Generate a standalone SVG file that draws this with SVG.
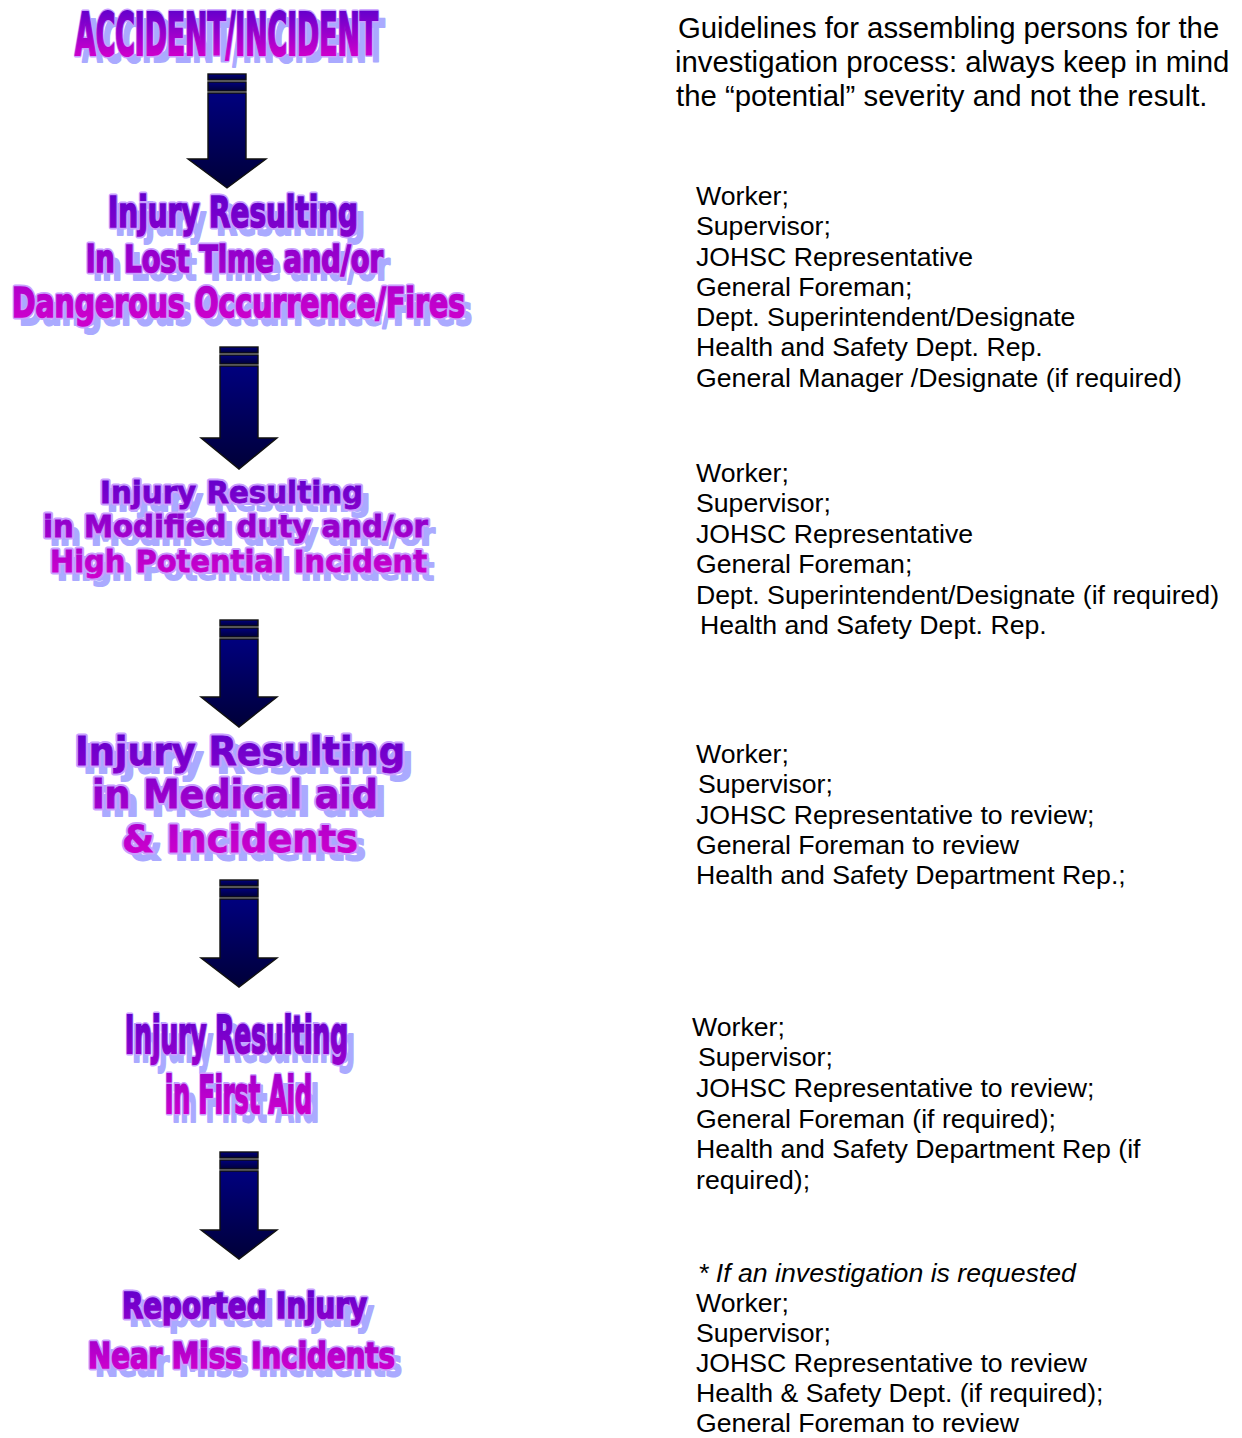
<svg xmlns="http://www.w3.org/2000/svg" xmlns:xlink="http://www.w3.org/1999/xlink" width="1242" height="1438" viewBox="0 0 1242 1438">
<style>
  .body { font-family: "Liberation Sans", Arial, sans-serif; font-size: 26.67px; fill: #000; }
  .intro { font-size: 29.33px; }
  .it { font-style: italic; }
  .shadow { fill: #AAAAFF; stroke: #AAAAFF; stroke-width: 2; stroke-linejoin: round; }
  .outline { fill: #C9A0FF; stroke: #C9A0FF; stroke-width: 5; stroke-linejoin: round; }
  .arrow { fill: url(#arrowFill); stroke: #111; stroke-width: 1.4; stroke-linejoin: miter; }
</style>
<defs>
  <linearGradient id="arrowFill" x1="0" y1="0" x2="0" y2="1">
    <stop offset="0" stop-color="#00007E"/>
    <stop offset="1" stop-color="#000038"/>
  </linearGradient>
  <linearGradient id="g1" gradientUnits="userSpaceOnUse" x1="0" y1="11" x2="0" y2="55">
    <stop offset="0" stop-color="#6600CC"/><stop offset="1" stop-color="#CC00CC"/>
  </linearGradient>
  <linearGradient id="g2" gradientUnits="userSpaceOnUse" x1="0" y1="196" x2="0" y2="318">
    <stop offset="0" stop-color="#6600CC"/><stop offset="1" stop-color="#CC00CC"/>
  </linearGradient>
  <linearGradient id="g3" gradientUnits="userSpaceOnUse" x1="0" y1="480" x2="0" y2="574">
    <stop offset="0" stop-color="#6600CC"/><stop offset="1" stop-color="#CC00CC"/>
  </linearGradient>
  <linearGradient id="g4" gradientUnits="userSpaceOnUse" x1="0" y1="737" x2="0" y2="853">
    <stop offset="0" stop-color="#6600CC"/><stop offset="1" stop-color="#CC00CC"/>
  </linearGradient>
  <linearGradient id="g5" gradientUnits="userSpaceOnUse" x1="0" y1="1015" x2="0" y2="1113">
    <stop offset="0" stop-color="#6600CC"/><stop offset="1" stop-color="#CC00CC"/>
  </linearGradient>
  <linearGradient id="g6" gradientUnits="userSpaceOnUse" x1="0" y1="1292" x2="0" y2="1368">
    <stop offset="0" stop-color="#6600CC"/><stop offset="1" stop-color="#CC00CC"/>
  </linearGradient>
</defs>
<rect width="1242" height="1438" fill="#fff"/>

<!-- Connectors: block arrows -->
<g id="connectors">
  <g id="arrow-1">
    <rect class="arrow" x="208" y="74" width="38" height="6"/>
    <rect class="arrow" x="208" y="82" width="38" height="9"/>
    <path class="arrow" d="M208,93 H246 V159 H266 L227,188 L188,159 H208 Z"/>
  </g>
  <g id="arrow-2">
    <rect class="arrow" x="220" y="347" width="38" height="6"/>
    <rect class="arrow" x="220" y="355" width="38" height="9"/>
    <path class="arrow" d="M220,366 H258 V438 H277 L239,469 L201,438 H220 Z"/>
  </g>
  <g id="arrow-3">
    <rect class="arrow" x="220" y="620" width="38" height="6"/>
    <rect class="arrow" x="220" y="628" width="38" height="9"/>
    <path class="arrow" d="M220,639 H258 V697 H277 L239,727 L201,697 H220 Z"/>
  </g>
  <g id="arrow-4">
    <rect class="arrow" x="220" y="880" width="38" height="6"/>
    <rect class="arrow" x="220" y="888" width="38" height="9"/>
    <path class="arrow" d="M220,899 H258 V958 H277 L239,987 L201,958 H220 Z"/>
  </g>
  <g id="arrow-5">
    <rect class="arrow" x="220" y="1152" width="38" height="6"/>
    <rect class="arrow" x="220" y="1160" width="38" height="9"/>
    <path class="arrow" d="M220,1171 H258 V1230 H277 L239,1259 L201,1230 H220 Z"/>
  </g>
</g>

<!-- Title nodes (WordArt style) -->
<g id="node-accident">
  <use href="#w1" class="shadow" transform="translate(7,7)"/>
  <use href="#w1" class="outline"/>
  <g fill="url(#g1)" stroke="url(#g1)" stroke-width="2">
    <g id="w1" font-family="'DejaVu Sans Condensed','DejaVu Sans',sans-serif" font-weight="bold">
      <text x="75" y="55" font-size="59" textLength="303" lengthAdjust="spacingAndGlyphs">ACCIDENT/INCIDENT</text>
    </g>
  </g>
</g>

<g id="node-lost-time">
  <use href="#w2" class="shadow" transform="translate(7,8)"/>
  <use href="#w2" class="outline"/>
  <g fill="url(#g2)" stroke="url(#g2)" stroke-width="1.6">
    <g id="w2" font-family="'DejaVu Sans Condensed','DejaVu Sans',sans-serif" font-weight="bold">
      <text x="108" y="227" font-size="42" textLength="250" lengthAdjust="spacingAndGlyphs">Injury Resulting</text>
      <text x="86" y="272" font-size="38" textLength="297" lengthAdjust="spacingAndGlyphs">in Lost Time and/or</text>
      <text x="12" y="317" font-size="40" textLength="453" lengthAdjust="spacingAndGlyphs">Dangerous Occurrence/Fires</text>
    </g>
  </g>
</g>

<g id="node-modified-duty">
  <use href="#w3" class="shadow" transform="translate(7,8)"/>
  <use href="#w3" class="outline"/>
  <g fill="url(#g3)" stroke="url(#g3)" stroke-width="0.8">
    <g id="w3" font-family="'DejaVu Sans',sans-serif" font-weight="bold">
      <text x="100" y="503" font-size="31" textLength="263" lengthAdjust="spacingAndGlyphs">Injury Resulting</text>
      <text x="43" y="537" font-size="30" textLength="385" lengthAdjust="spacingAndGlyphs">in Modified duty and/or</text>
      <text x="50" y="572" font-size="31" textLength="377" lengthAdjust="spacingAndGlyphs">High Potential Incident</text>
    </g>
  </g>
</g>

<g id="node-medical-aid">
  <use href="#w4" class="shadow" transform="translate(8,8)"/>
  <use href="#w4" class="outline"/>
  <g fill="url(#g4)" stroke="url(#g4)" stroke-width="0.8">
    <g id="w4" font-family="'DejaVu Sans',sans-serif" font-weight="bold">
      <text x="75" y="765" font-size="38.5" textLength="330" lengthAdjust="spacingAndGlyphs">Injury Resulting</text>
      <text x="92" y="808" font-size="38.5" textLength="286" lengthAdjust="spacingAndGlyphs">in Medical aid</text>
      <text x="122" y="852" font-size="37.5" textLength="236" lengthAdjust="spacingAndGlyphs">&amp; Incidents</text>
    </g>
  </g>
</g>

<g id="node-first-aid">
  <use href="#w5" class="shadow" transform="translate(7,9)"/>
  <use href="#w5" class="outline"/>
  <g fill="url(#g5)" stroke="url(#g5)" stroke-width="2">
    <g id="w5" font-family="'DejaVu Sans Condensed','DejaVu Sans',sans-serif" font-weight="bold">
      <text x="125" y="1053" font-size="52" textLength="223" lengthAdjust="spacingAndGlyphs">Injury Resulting</text>
      <text x="165" y="1113" font-size="52" textLength="147" lengthAdjust="spacingAndGlyphs">in First Aid</text>
    </g>
  </g>
</g>

<g id="node-near-miss">
  <use href="#w6" class="shadow" transform="translate(7,8)"/>
  <use href="#w6" class="outline"/>
  <g fill="url(#g6)" stroke="url(#g6)" stroke-width="1.6">
    <g id="w6" font-family="'DejaVu Sans Condensed','DejaVu Sans',sans-serif" font-weight="bold">
      <text x="122" y="1318" font-size="36" textLength="245" lengthAdjust="spacingAndGlyphs">Reported Injury</text>
      <text x="88" y="1368" font-size="36" textLength="307" lengthAdjust="spacingAndGlyphs">Near Miss Incidents</text>
    </g>
  </g>
</g>

<!-- Right column text -->
<g id="note-guidelines" class="body intro">
  <text x="678" y="37.5">Guidelines for assembling persons for the</text>
  <text x="675" y="71.5">investigation process: always keep in mind</text>
  <text x="676" y="105.5">the “potential” severity and not the result.</text>
</g>

<g id="list-lost-time" class="body">
  <text x="696" y="204.5">Worker;</text>
  <text x="696" y="235">Supervisor;</text>
  <text x="696" y="265.5">JOHSC Representative</text>
  <text x="696" y="295.5">General Foreman;</text>
  <text x="696" y="325.5">Dept. Superintendent/Designate</text>
  <text x="696" y="356">Health and Safety Dept. Rep.</text>
  <text x="696" y="386.5">General Manager /Designate (if required)</text>
</g>

<g id="list-modified-duty" class="body">
  <text x="696" y="481.5">Worker;</text>
  <text x="696" y="512">Supervisor;</text>
  <text x="696" y="542.5">JOHSC Representative</text>
  <text x="696" y="573">General Foreman;</text>
  <text x="696" y="603.5">Dept. Superintendent/Designate (if required)</text>
  <text x="700" y="634">Health and Safety Dept. Rep.</text>
</g>

<g id="list-medical-aid" class="body">
  <text x="696" y="762.5">Worker;</text>
  <text x="698" y="793">Supervisor;</text>
  <text x="696" y="823.5">JOHSC Representative to review;</text>
  <text x="696" y="854">General Foreman to review</text>
  <text x="696" y="884">Health and Safety Department Rep.;</text>
</g>

<g id="list-first-aid" class="body">
  <text x="692" y="1035.5">Worker;</text>
  <text x="698" y="1066">Supervisor;</text>
  <text x="696" y="1097">JOHSC Representative to review;</text>
  <text x="696" y="1127.5">General Foreman (if required);</text>
  <text x="696" y="1158">Health and Safety Department Rep (if</text>
  <text x="696" y="1188.5">required);</text>
</g>

<g id="list-near-miss" class="body">
  <text x="698" y="1282" class="it">* If an investigation is requested</text>
  <text x="696" y="1312">Worker;</text>
  <text x="696" y="1342">Supervisor;</text>
  <text x="696" y="1372">JOHSC Representative to review</text>
  <text x="696" y="1402">Health &amp; Safety Dept. (if required);</text>
  <text x="696" y="1432">General Foreman to review</text>
</g>
</svg>
